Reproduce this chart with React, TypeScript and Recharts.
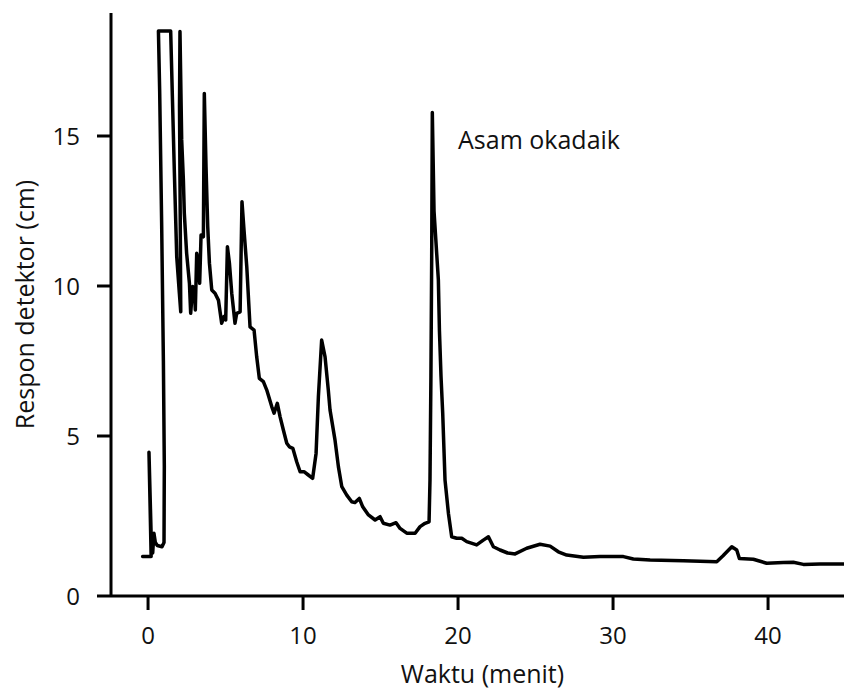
import React from 'react';
import { LineChart, Line, XAxis, YAxis, ReferenceDot } from 'recharts';

// Chromatogram trace (x: Waktu in menit, y: Respon detektor in cm)
const injeksiWaktu = [-0.35, 0.2, 0.06, 0.22, 0.3, 0.38, 0.47, 0.6, 0.9, 1.03, 1.05, 0.99, 0.88, 0.75, 0.67, 1.46];
const injeksiRespon = [0.98, 0.98, 4.46, 1.3, 1.1, 1.76, 1.45, 1.35, 1.31, 1.45, 4.0, 7.5, 12.0, 16.5, 18.5, 18.5];

const awalWaktu = [1.57, 1.7, 1.85, 2.02, 2.11, 2.08, 2.03, 2.06, 2.17, 2.28, 2.34, 2.49, 2.67, 2.75, 2.88, 2.99, 3.05, 3.14, 3.25, 3.33, 3.42, 3.57, 3.63, 3.74, 3.85, 3.96, 4.11, 4.32, 4.54, 4.75, 4.9, 5.01, 5.12, 5.25, 5.4, 5.61, 5.72, 5.94, 6.06, 6.19, 6.37, 6.58, 6.84, 7.01, 7.18, 7.44, 7.66, 7.98, 8.13, 8.34, 8.52, 8.73, 8.95, 9.12, 9.34, 9.59, 9.81, 10.06, 10.34, 10.62];
const awalRespon = [16.31, 13.76, 10.98, 9.76, 9.14, 12.0, 16.0, 18.48, 14.87, 13.53, 12.42, 11.09, 10.09, 9.09, 9.98, 9.87, 9.2, 11.09, 10.76, 10.09, 11.7, 11.64, 16.42, 13.98, 11.98, 10.76, 9.87, 9.76, 9.53, 8.76, 8.98, 8.87, 11.31, 10.76, 9.76, 8.76, 9.09, 9.14, 12.81, 11.87, 10.64, 8.64, 8.53, 7.64, 6.92, 6.81, 6.53, 5.98, 5.76, 6.09, 5.64, 5.2, 4.76, 4.64, 4.59, 4.14, 3.81, 3.81, 3.7, 3.59];

const tengahWaktu = [10.84, 10.99, 11.2, 11.42, 11.63, 11.74, 12.06, 12.28, 12.5, 12.82, 13.14, 13.35, 13.63, 13.85, 14.22, 14.65, 14.97, 15.18, 15.61, 16.0, 16.26, 16.69, 17.23, 17.55, 17.87, 18.13];
const tengahRespon = [4.42, 6.31, 8.2, 7.64, 6.53, 5.87, 4.87, 3.98, 3.31, 3.03, 2.81, 2.78, 2.92, 2.64, 2.37, 2.2, 2.31, 2.09, 2.03, 2.11, 1.92, 1.76, 1.76, 1.98, 2.09, 2.14];

const akhirWaktu = [18.19, 18.25, 18.3, 18.34, 18.45, 18.73, 18.8, 18.9, 19.01, 19.16, 19.38, 19.59, 19.91, 20.24, 20.56, 21.2, 21.63, 21.96, 22.28, 22.71, 23.2, 23.68, 24.43, 25.29, 25.94, 26.47, 27.01, 28.09, 29.16, 30.67, 31.31, 32.39, 34.54, 36.69, 37.08, 37.66, 37.98, 38.15, 39.05, 39.91, 40.99, 41.63, 42.28, 43.35, 44.9];
const akhirRespon = [3.53, 7.0, 11.0, 15.78, 12.5, 10.2, 8.5, 7.0, 5.76, 3.53, 2.42, 1.64, 1.59, 1.59, 1.48, 1.37, 1.53, 1.64, 1.31, 1.2, 1.1, 1.07, 1.26, 1.39, 1.33, 1.14, 1.03, 0.96, 0.98, 0.98, 0.9, 0.87, 0.84, 0.81, 1.0, 1.31, 1.2, 0.92, 0.89, 0.76, 0.78, 0.79, 0.72, 0.73, 0.73];

const xTicks = [0, 10, 20, 30, 40];
const yMin = -1 / 3;
const yTicks = [yMin, 5, 10, 15];
const peakLabel = 'Asam okadaik';
const peakLabelAt = { x: 20.0, y: 14.87 };

const waktu = [...injeksiWaktu, ...awalWaktu, ...tengahWaktu, ...akhirWaktu];
const respon = [...injeksiRespon, ...awalRespon, ...tengahRespon, ...akhirRespon];
const data = waktu.map((w, i) => ({ waktu: w, respon: respon[i] }));

const FONT = '"Open Sans", "Noto Sans", sans-serif';
const FS = 24;
const FS_LABEL = 25;

const YLabel = (props: any) => {
  const vb = props.viewBox || {};
  const cx = vb.x + 25;
  const cy = vb.y + vb.height / 2;
  return (
    <text x={cx} y={cy} dy="0.355em" transform={`rotate(-90, ${cx}, ${cy})`} textAnchor="middle"
      fontFamily={FONT} fontSize={FS_LABEL} fill="#111">Respon detektor (cm)</text>
  );
};

const XLabel = (props: any) => {
  const vb = props.viewBox || {};
  const cx = vb.x + vb.width / 2 + 5;
  const cy = vb.y + 78;
  return (
    <text x={cx} y={cy} dy="0.355em" textAnchor="middle" fontFamily={FONT} fontSize={FS_LABEL} fill="#111">Waktu (menit)</text>
  );
};

export default function App() {
  return (
    <div style={{ position: 'absolute', left: 0, top: 0, background: '#fff' }}>
      <LineChart width={844} height={689} data={data} margin={{ top: 13, right: 0, bottom: 0, left: 0 }}>
        <XAxis dataKey="waktu" type="number" domain={[-2.39, 44.9]} ticks={xTicks} allowDataOverflow
          height={93} tickSize={14} tickMargin={17} stroke="#000" strokeWidth={3}
          tick={{ fill: '#111', fontSize: FS, fontFamily: FONT }} interval={0}
          label={<XLabel />} />
        <YAxis type="number" domain={[yMin, 19.1]} ticks={yTicks} allowDataOverflow width={111}
          tickSize={14} tickMargin={17} stroke="#000" strokeWidth={3} interval={0}
          tickFormatter={(v: number) => (v < 1 ? '0' : String(v))}
          tick={{ fill: '#111', fontSize: FS, fontFamily: FONT }}
          label={<YLabel />} />
        <Line dataKey="respon" type="linear" stroke="#000" strokeWidth={3.5} dot={false}
          strokeLinejoin="round" strokeLinecap="round" isAnimationActive={false} />
        <ReferenceDot x={peakLabelAt.x} y={peakLabelAt.y} r={0} fill="none" stroke="none"
          label={{ value: peakLabel, position: 'right', offset: 0, fill: '#111', fontSize: FS_LABEL, fontFamily: FONT }} />
      </LineChart>
    </div>
  );
}
